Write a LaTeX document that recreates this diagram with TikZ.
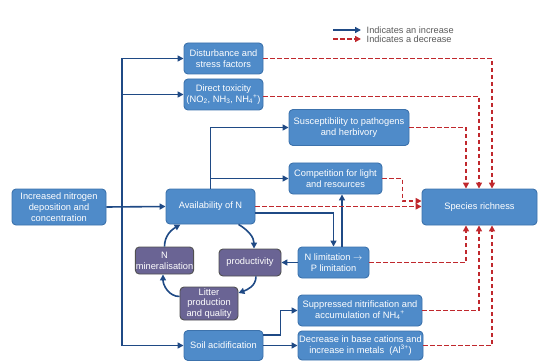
\documentclass[tikz,border=0pt]{standalone}
\usepackage{fontspec}
\setmainfont{Liberation Sans}
\usetikzlibrary{arrows.meta}
\definecolor{boxfill}{HTML}{4F8BC9}
\definecolor{boxedge}{HTML}{3C72AC}
\definecolor{purpfill}{HTML}{6A6494}
\definecolor{purpedge}{HTML}{505050}
\definecolor{arrblue}{HTML}{1F4A85}
\definecolor{arrred}{HTML}{C0282D}
\definecolor{legtext}{HTML}{5A5A5A}
\tikzset{
  bbox/.style={draw=boxedge, fill=boxfill, line width=0.9pt, rounded corners=4pt, text=white, align=center,
    font=\fontsize{9.3}{10.8}\selectfont, inner sep=0.5pt},
  pbox/.style={bbox, draw=purpedge, fill=purpfill},
  inc/.style={draw=arrblue, line width=1.6pt, -{Triangle[length=6pt,width=6pt]}},
  decr/.style={draw=arrred, line width=1.6pt, dash pattern=on 4.5pt off 2.5pt, -{Triangle[length=6pt,width=6pt]}},
  legt/.style={anchor=west, text=legtext, font=\fontsize{9.2}{9}\selectfont, inner sep=0pt}
}
\begin{document}
\begin{tikzpicture}[x=1pt,y=-1pt]
\useasboundingbox (0,0) rectangle (539,361);
% nodes
\node[bbox, minimum width=79pt, minimum height=31pt] (dist) at (223.5,58.5) {Disturbance and\\stress factors};
\node[bbox, minimum width=79pt, minimum height=31pt] (tox) at (223.5,94.5) {Direct toxicity\\(NO\textsubscript{2}, NH\textsubscript{3}, NH\textsubscript{4}\textsuperscript{+})};
\node[bbox, minimum width=120pt, minimum height=36pt] (susc) at (349,127.5) {Susceptibility to pathogens\\and herbivory};
\node[bbox, minimum width=93pt, minimum height=31pt] (comp) at (335.5,178.5) {Competition for light\\and resources};
\node[bbox, minimum width=115pt, minimum height=36pt] (spec) at (479.5,207) {Species richness};
\node[bbox, minimum width=94pt, minimum height=36pt] (incN) at (59,207) {Increased nitrogen\\deposition and\\concentration};
\node[bbox, minimum width=89pt, minimum height=35pt] (avail) at (210.5,206.5) {Availability of N};
\node[pbox, minimum width=57pt, minimum height=27pt] (nmin) at (164.5,260.5) {N\\mineralisation};
\node[pbox, minimum width=62pt, minimum height=27pt] (prod) at (250,262.5) {productivity};
\node[pbox, minimum width=58pt, minimum height=33pt] (litter) at (209,303.5) {Litter\\production\\and quality};
\node[bbox, minimum width=79pt, minimum height=30pt] (soil) at (223.5,345.5) {Soil acidification};
\node[bbox, minimum width=71pt, minimum height=31pt] (nlim) at (333.5,262.5) {N limitation $\rightarrow$\\P limitation};
\node[bbox, minimum width=124pt, minimum height=31pt] (supp) at (360,310.5) {Suppressed nitrification and\\accumulation of NH\textsubscript{4}\textsuperscript{+}};
\node[bbox, minimum width=125pt, minimum height=29pt] (decb) at (360.5,345.5) {Decrease in base cations and\\increase in metals\ \ (Al\textsuperscript{3+})};
% legend
\coordinate (l1a) at (333,30); \coordinate (l1b) at (361,30);
\coordinate (l2a) at (333,39); \coordinate (l2b) at (361,39);
\draw[inc] (l1a) -- (l1b);
\draw[decr] (l2a) -- (l2b);
\node[legt] (lt1) at (366.5,30) {Indicates an increase};
\node[legt] (lt2) at (366.5,39) {Indicates a decrease};
% trunk
\coordinate (tr) at (122,207);
\draw[inc] (incN.east) -- (avail.west);
\draw[inc] (tr) |- (dist.west);
\draw[inc] (tr) |- (tox.west);
\draw[inc] (tr) |- (soil.west);
% availability branches
\draw[inc] (avail.north) |- (susc.west);
\draw[inc] (avail.north |- comp.west) -- (comp.west);
\draw[inc] ([yshift=-6.5pt]avail.east) -| (nlim.north);
\draw[inc] ([xshift=8.5pt]nlim.north) -- ([xshift=8.5pt]nlim.north |- comp.south);
\draw[inc] (nlim.west) -- (prod.east);
% soil
\draw[inc] ([yshift=10.5pt]soil.east) -- ++(17,0) |- (supp.west);
\draw[inc] (soil.east) -- (decb.west);
% cycle
\draw[inc] (nmin.north) to[out=90,in=210] ([xshift=-30pt]avail.south);
\draw[inc] ([xshift=28pt]avail.south) to[out=-30,in=90] ([xshift=4pt]prod.north);
\draw[inc] ([xshift=6pt]prod.south) to[out=-90,in=20] ([yshift=10.5pt]litter.east);
\draw[inc] ([yshift=7pt]litter.west) to[out=180,in=-90] ([xshift=-1.5pt]nmin.south);
% decreases
\draw[decr] (avail.east) -- (avail.east -| spec.west);
\draw[decr] (comp.east) -- ++(20,0) |- ([yshift=6pt]spec.west);
\draw[decr] (susc.east) -| ([xshift=-13.5pt]spec.north);
\draw[decr] ([yshift=-2pt]tox.east) -| ([xshift=-0.5pt]spec.north);
\draw[decr] (dist.east) -| ([xshift=12.5pt]spec.north);
\draw[decr] (nlim.east) -| ([xshift=-13.5pt]spec.south);
\draw[decr] (supp.east) -| ([xshift=-0.5pt]spec.south);
\draw[decr] (decb.east) -| ([xshift=12.5pt]spec.south);
\end{tikzpicture}
\end{document}
